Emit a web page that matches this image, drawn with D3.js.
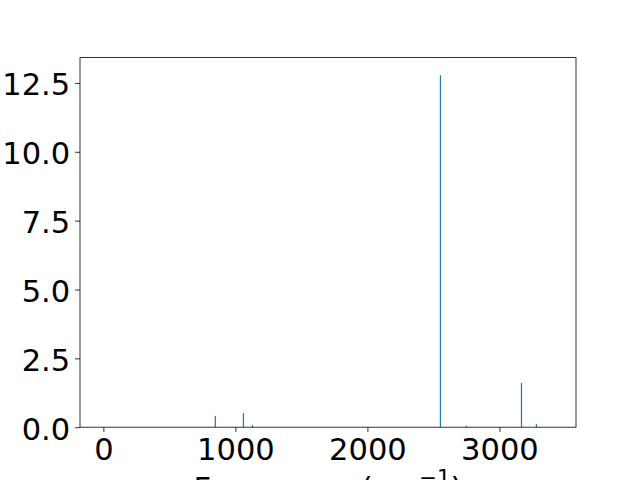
<!DOCTYPE html>
<html>
<head>
<meta charset="utf-8">
<script src="https://cdn.jsdelivr.net/npm/d3@7"></script>
<style>
  body { margin: 0; background: #fff; }
  svg { display: block; font-family: "DejaVu Sans", sans-serif; }
</style>
</head>
<body>
<svg id="chart" width="640" height="480"></svg>
<script>
// vibrational modes
var frequencies = [848, 1061, 1129, 2553, 2750, 3167, 3280];
var intensities = [0.41, 0.51, 0.08, 12.78, 0.05, 1.61, 0.11];
var xTicks = [0, 1000, 2000, 3000];
var yTicks = [0, 2.5, 5, 7.5, 10, 12.5];
var xLimits = [-177, 3580];
var yLimits = [0, 13.42];

var svg = d3.select("#chart");
var plotLeft = 80, plotRight = 576, plotTop = 57.6, plotBottom = 427.2;

var x = d3.scaleLinear().domain(xLimits).range([plotLeft, plotRight]);
var y = d3.scaleLinear().domain(yLimits).range([plotBottom, plotTop]);

var data = frequencies.map(function(f, i) { return { f: f, v: intensities[i] }; });

svg.selectAll(".bar")
    .data(data)
    .enter().append("rect")
    .attr("class", "bar")
    .attr("x", function(d) { return x(d.f) - 0.6; })
    .attr("width", 1.2)
    .attr("y", function(d) { return y(d.v); })
    .attr("height", function(d) { return y(0) - y(d.v); })
    .attr("fill", "#1f77b4");

var fontSize = 30.5;

var xAxis = svg.append("g")
    .attr("transform", "translate(0," + plotBottom + ")")
    .call(d3.axisBottom(x).tickValues(xTicks).tickFormat(d3.format("d"))
        .tickSizeInner(4.9).tickSizeOuter(0).tickPadding(4.9));

var yAxis = svg.append("g")
    .attr("transform", "translate(" + plotLeft + ",0)")
    .call(d3.axisLeft(y).tickValues(yTicks).tickFormat(d3.format(".1f"))
        .tickSizeInner(4.9).tickSizeOuter(0).tickPadding(4.9));

[xAxis, yAxis].forEach(function(g) {
    g.select(".domain").remove();
    g.selectAll("line").attr("stroke", "#000").attr("stroke-width", 0.8);
    g.selectAll("text")
        .attr("fill", "#000")
        .style("font-size", fontSize + "px")
        .style("font-family", "DejaVu Sans");
});
xAxis.selectAll("text").attr("dy", "0.74em");
yAxis.selectAll("text").attr("dy", "0.39em");

// frame
svg.append("rect")
    .attr("x", plotLeft).attr("y", plotTop)
    .attr("width", plotRight - plotLeft).attr("height", plotBottom - plotTop)
    .attr("fill", "none")
    .attr("stroke", "#000")
    .attr("stroke-width", 0.8);

var label = svg.append("text")
    .attr("x", (plotLeft + plotRight) / 2)
    .attr("y", 499)
    .attr("text-anchor", "middle")
    .style("font-size", fontSize + "px")
    .attr("fill", "#000");
label.append("tspan").text("Frequency (cm");
label.append("tspan").attr("dy", -14).style("font-size", (fontSize * 0.7) + "px").text("\u22121");
label.append("tspan").attr("dy", 14).text(")");
</script>
</body>
</html>
